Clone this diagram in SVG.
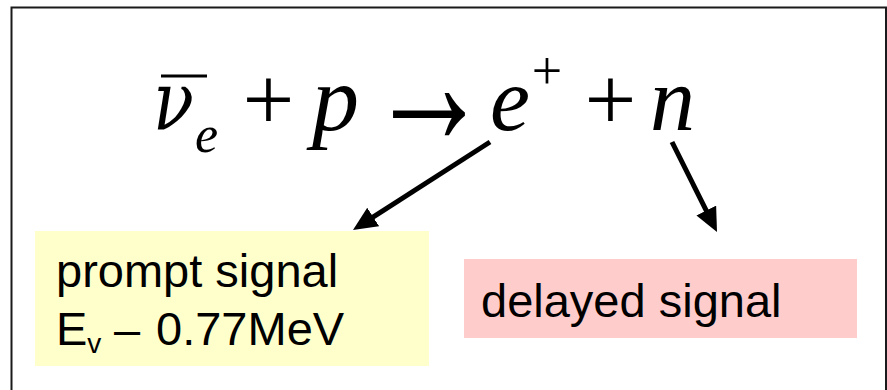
<svg xmlns="http://www.w3.org/2000/svg" width="887" height="390" viewBox="0 0 887 390">
<style>
.eq{font-family:"Liberation Serif","Times New Roman",serif;font-style:italic;fill:#000}
.op{font-family:"Liberation Serif","Times New Roman","DejaVu Serif",serif;fill:#000}
.lbl{font-family:"Liberation Sans",Arial,sans-serif;font-size:47px;fill:#000}
.conn{stroke:#000;stroke-width:5;fill:none}
</style>
<defs>
<marker id="ah" markerUnits="userSpaceOnUse" markerWidth="26" markerHeight="24" refX="9" refY="11" orient="auto">
<path d="M0,0 L24,11 L0,22 z" fill="#000"/>
</marker>
</defs>
<rect x="0" y="0" width="887" height="390" fill="#fff"/>
<path d="M11.5,400 L11.5,7.5 L886,7.5 L886,400" fill="none" stroke="#1a1a1a" stroke-width="2"/>
<g id="equation">
<line x1="161" y1="76" x2="207" y2="76" stroke="#000" stroke-width="3"/>
<text transform="translate(153,130) scale(0.82,1)" font-family="DejaVu Serif,serif" font-style="italic" font-size="82">ν</text>
<text class="eq" x="195" y="152" font-size="52">e</text>
<text class="op" x="268.5" y="130" font-size="92" text-anchor="middle">+</text>
<text class="eq" x="312" y="130" font-size="94">p</text>
<text class="op" transform="translate(429,108) scale(1.35,2)" font-size="90" text-anchor="middle" y="18">→</text>
<text class="eq" x="490" y="130" font-size="90">e</text>
<text class="op" x="547" y="89" font-size="54" text-anchor="middle">+</text>
<text class="op" x="610.5" y="130" font-size="92" text-anchor="middle">+</text>
<text class="eq" x="650" y="130" font-size="90">n</text>
</g>
<g id="connectors">
<line class="conn" x1="490" y1="142" x2="365.6" y2="221.9" marker-end="url(#ah)"/>
<line class="conn" x1="672" y1="142" x2="710.3" y2="218.6" marker-end="url(#ah)"/>
</g>
<g id="prompt">
<rect x="35" y="231" width="394" height="135" fill="#FFFFCC"/>
<text class="lbl" x="56" y="287">prompt signal</text>
<text class="lbl" x="56" y="345">E<tspan font-size="28" dy="8">v</tspan><tspan dy="-8" x="114">–</tspan><tspan x="156">0.77MeV</tspan></text>
</g>
<g id="delayed">
<rect x="464" y="259" width="393" height="79" fill="#FFCCCC"/>
<text class="lbl" x="481" y="317">delayed signal</text>
</g>
</svg>
